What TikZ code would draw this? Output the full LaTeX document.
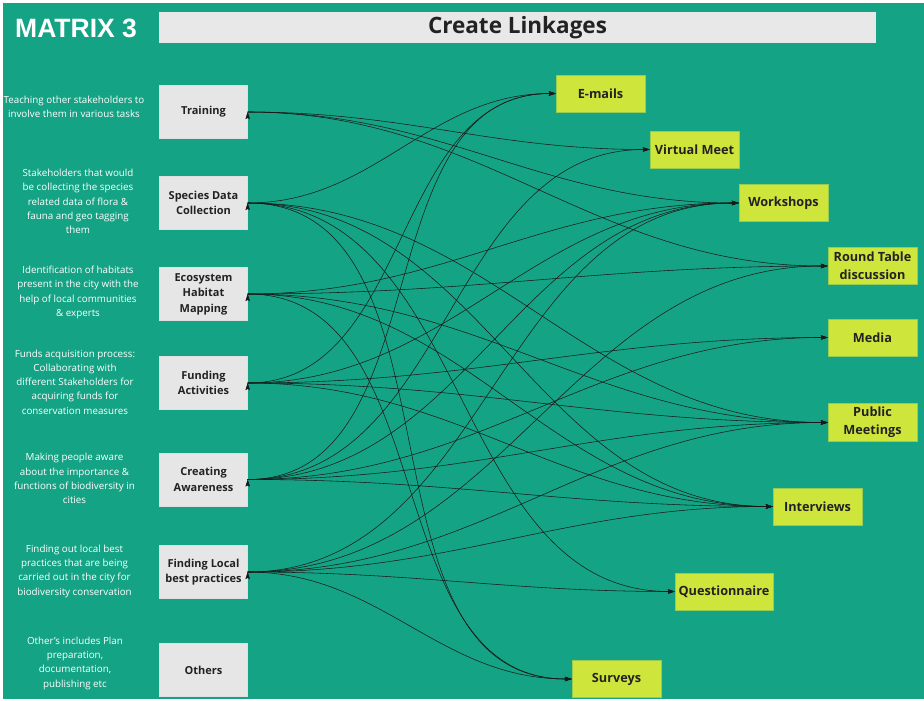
\documentclass[tikz,border=0pt]{standalone}
\usepackage{fontspec}
\setmainfont{Open Sans}
\newfontfamily\headfont{Liberation Sans}
\usetikzlibrary{arrows.meta}

\definecolor{matrixteal}{RGB}{20,163,132}
\definecolor{boxgrey}{RGB}{230,230,230}
\definecolor{titlegrey}{RGB}{232,232,232}
\definecolor{chartreuse}{RGB}{206,230,60}
\definecolor{chartline}{RGB}{150,205,80}
\definecolor{labeltext}{RGB}{34,34,34}

\begin{document}
\begin{tikzpicture}[
  x=1pt, y=-1pt, >={Stealth[length=7pt,width=4.5pt,inset=1pt]},
  activity/.style={draw=black!12, fill=boxgrey, minimum width=88pt, minimum height=53pt,
                   inner sep=2pt, align=center, text=labeltext,
                   font=\fontsize{11}{15.5}\selectfont\bfseries},
  channel/.style={draw=chartline, fill=chartreuse, minimum width=89pt, minimum height=37pt,
                  inner sep=3.5pt, align=center, text=labeltext,
                  font=\fontsize{12.7}{18}\selectfont\bfseries},
  note/.style={text=white, align=center, inner sep=0pt,
               font=\fontsize{9.8}{14.3}\selectfont},
  link/.style={->, line width=0.55pt, black!90, out=0, in=180},
]
  % page
  \fill[white] (0,0) rectangle (924,701);
  \fill[matrixteal] (3,3) rectangle (924,699);

  % heading
  \node[anchor=base west, inner sep=0pt, text=white,
        font=\headfont\bfseries\fontsize{26.5}{30}\selectfont] (mtitle) at (15,37.5) {MATRIX 3};
  \node[fill=titlegrey, minimum width=717pt, minimum height=31pt, text=labeltext,
        font=\fontsize{22.5}{26}\selectfont\bfseries] (title) at (517.5,27.5) {Create Linkages};

  % activities
  \node[activity] (train)   at (203.5,112)   {Training};
  \node[activity] (species) at (203.5,203)   {Species Data\\Collection};
  \node[activity] (ecomap)  at (203.5,294)   {Ecosystem\\Habitat\\Mapping};
  \node[activity] (funding) at (203.5,383)   {Funding\\Activities};
  \node[activity] (aware)   at (203.5,479.5) {Creating\\Awareness};
  \node[activity] (localbp) at (203.5,572)   {Finding Local\\best practices};
  \node[activity] (others)  at (203.5,670)   {Others};

  % what each one means
  \node[note] (trainnote)   at (74,107)    {Teaching other stakeholders to\\involve them in various tasks};
  \node[note] (speciesnote) at (78,201.5)  {Stakeholders that would\\be collecting the species\\related data of flora \&\\fauna and geo tagging\\them};
  \node[note] (ecomapnote)  at (78,292.5)  {Identification of habitats\\present in the city with the\\help of local communities\\\& experts};
  \node[note] (fundingnote) at (75,382)    {Funds acquisition process:\\Collaborating with\\different Stakeholders for\\acquiring funds for\\conservation measures};
  \node[note] (awarenote)   at (74.5,478.5) {Making people aware\\about the importance \&\\functions of biodiversity in\\cities};
  \node[note] (localbpnote) at (74.5,571)  {Finding out local best\\practices that are being\\carried out in the city for\\biodiversity conservation};
  \node[note] (othersnote)  at (75,663)    {Other's includes Plan\\preparation,\\documentation,\\publishing etc};

  % channels
  \node[channel] (email)   at (600.5,93.5)  {E-mails};
  \node[channel] (vmeet)   at (694.5,149.5) {Virtual Meet};
  \node[channel] (wshop)   at (783.5,203)   {Workshops};
  \node[channel] (rtable)  at (872.5,266)   {Round Table\\discussion};
  \node[channel] (media)   at (872.5,337.5) {Media};
  \node[channel] (pubmeet) at (872.5,422.5) {Public\\Meetings};
  \node[channel] (interv)  at (817.5,506.5) {Interviews};
  \node[channel] (quest)   at (724,591.5)   {Questionnaire};
  \node[channel] (survey)  at (616.5,679)   {Surveys};

  % linkages
  \draw[link] (train.east) edge (vmeet.west) edge (wshop.west) edge (rtable.west);
  \draw[link] (species.east) edge (email.west) edge (pubmeet.west) edge (interv.west)
                             edge (quest.west) edge (survey.west);
  \draw[link] (ecomap.east) edge (wshop.west) edge (rtable.west) edge (pubmeet.west)
                            edge (interv.west) edge (survey.west);
  \draw[link] (funding.east) edge (email.west) edge (wshop.west) edge (media.west)
                             edge (pubmeet.west) edge (interv.west);
  \draw[link] (aware.east) edge (email.west) edge (vmeet.west) edge (wshop.west)
                           edge (media.west) edge (pubmeet.west) edge (interv.west);
  \draw[link] (localbp.east) edge (wshop.west) edge (rtable.west) edge (pubmeet.west)
                             edge (interv.west) edge (quest.west) edge (survey.west);
\end{tikzpicture}
\end{document}
